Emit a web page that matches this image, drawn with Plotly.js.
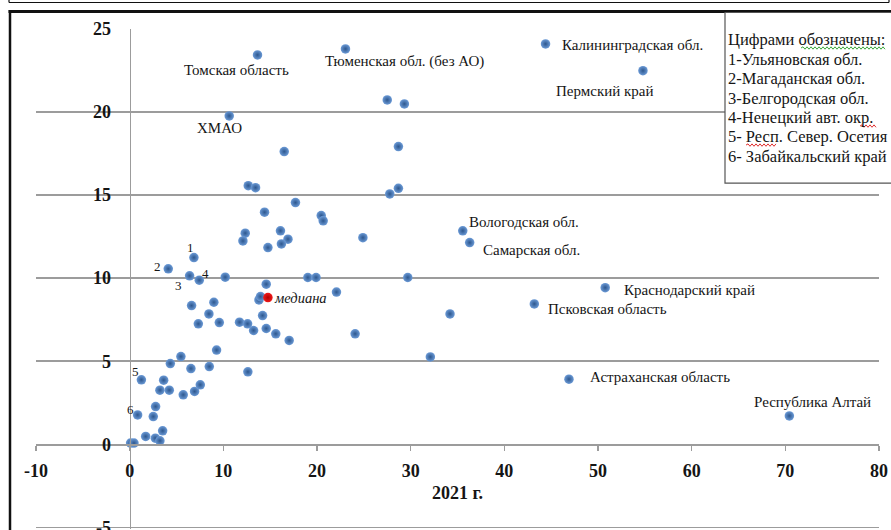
<!DOCTYPE html>
<html><head><meta charset="utf-8">
<script src="https://cdn.plot.ly/plotly-3.0.1.min.js"></script>
<style>html,body{margin:0;padding:0;background:#fff;overflow:hidden}#chart{width:891px;height:530px}</style>
</head><body><div id="chart"></div>
<script>
// ---- DATA ----
const otherX = [16.5,12.66,13.44,17.7,14.4,12.34,12.09,16.1,16.9,16.2,14.76,10.2,14.58,13.8,13.97,6.61,8.99,8.46,14.19,7.33,9.57,11.73,12.59,13.23,14.58,15.6,17.03,9.28,5.47,4.34,6.54,8.5,12.62,3.63,3.23,4.23,5.72,6.93,7.54,2.77,2.52,3.52,1.71,2.74,3.23,0.1,0.46,27.5,29.33,28.69,28.69,27.77,20.45,20.66,24.9,19.02,19.9,29.69,22.08,34.2,24.07,32.1];
const otherY = [17.62,15.57,15.45,14.55,13.97,12.71,12.24,12.85,12.35,12.06,11.84,10.06,9.64,8.69,8.89,8.35,8.55,7.85,7.75,7.25,7.33,7.35,7.25,6.85,6.97,6.65,6.25,5.67,5.28,4.86,4.56,4.68,4.36,3.86,3.26,3.26,2.98,3.18,3.58,2.27,1.67,0.81,0.47,0.37,0.21,0.07,0.07,20.73,20.49,17.92,15.41,15.07,13.77,13.45,12.44,10.04,10.04,10.04,9.16,7.85,6.65,5.26];
const namedRegions = ['Томская область','ХМАО','Тюменская обл. (без АО)','Калининградская обл.','Пермский край','Вологодская обл.','Самарская обл.','Краснодарский край','Псковская область','Астраханская область','Республика Алтай'];
const namedX = [13.65,10.63,23.04,44.4,54.8,35.56,36.3,50.77,43.2,46.9,70.43];
const namedY = [23.44,19.77,23.8,24.1,22.49,12.85,12.14,9.43,8.45,3.92,1.71];
const numberedTags = ['1','2','3','4','5','6'];
const numberedX = [6.86,4.12,6.4,7.43,1.25,0.85];
const numberedY = [11.24,10.56,10.14,9.88,3.88,1.77];
const medianX = [14.76];
const medianY = [8.83];
const medianLabel = 'медиана';
const legendTitle = 'Цифрами обозначены:';
const legendLines = ['1-Ульяновская обл.','2-Магаданская обл.','3-Белгородская обл.','4-Ненецкий авт. окр.','5- Респ. Север. Осетия','6- Забайкальский край'];
const xTitle = '2021 г.';
const xTicks = [-10,0,10,20,30,40,50,60,70,80];
const yTicks = [-5,0,5,10,15,20,25];

// ---- LAYOUT HELPERS (pixel -> paper) ----
const yLo = -5.1, yHi = 25;
const L = 36, T = 29, W = 843, H = 498 * (yHi - yLo) / 30;
const px = p => (p - L) / W;
const py = p => (T + H - p) / H;

const serif = 'Liberation Serif, Times New Roman, serif';
const txt = '#151515';
const gridC = '#9c9c9c';

// label offsets (pixels): [xanchor, xshift, yshift]
const namedStyle = [
  ['center',-21,-15],['center',-10,-12],['center',59,-13],['left',14,-1],['center',-38,-20],
  ['center',61,9],['center',62,-7],['left',17,-2],['left',12,-5],['left',19,2],['center',23,14]
];
const numStyle = [[-3,10],[-11,2],[-11,-10],[6,7],[-6,8],[-7,5]];
const legendRowsPx = [39.5, 59.5, 78.5, 98, 117, 136.5, 156.5];

const allX = otherX.concat(namedX, numberedX);
const allY = otherY.concat(namedY, numberedY);

const traces = [
  {type:'scatter', mode:'markers', x:allX, y:allY, hoverinfo:'x+y',
   marker:{size:9.5, color:'#6b9ad6', gradient:{type:'radial', color:'#2d578e'}, line:{width:0}}, showlegend:false},
  {type:'scatter', mode:'markers', x:medianX, y:medianY, name:medianLabel,
   marker:{size:9.5, color:'#f01a1a', gradient:{type:'radial', color:'#b00000'}, line:{width:0}}, showlegend:false}
];

const annotations = [];
namedRegions.forEach((n,i)=>{
  const s = namedStyle[i];
  annotations.push({x:namedX[i], y:namedY[i], xref:'x', yref:'y', text:n, showarrow:false,
    xanchor:s[0], yanchor:'middle', xshift:s[1], yshift:s[2], font:{family:serif, size:15, color:txt}});
});
numberedTags.forEach((t,i)=>{
  annotations.push({x:numberedX[i], y:numberedY[i], xref:'x', yref:'y', text:t, showarrow:false,
    xanchor:'center', yanchor:'middle', xshift:numStyle[i][0], yshift:numStyle[i][1], font:{family:serif, size:13, color:txt}});
});
annotations.push({x:medianX[0], y:medianY[0], xref:'x', yref:'y', text:'<i>'+medianLabel+'</i>', showarrow:false,
  xanchor:'left', yanchor:'middle', xshift:4, yshift:0, font:{family:serif, size:14.5, color:txt}});
[legendTitle].concat(legendLines).forEach((line,i)=>{
  annotations.push({x:px(726), y:py(legendRowsPx[i]), xref:'paper', yref:'paper', text:line,
    showarrow:false, xanchor:'left', yanchor:'middle', align:'left', font:{family:serif, size:16.5, color:txt}});
});

function wavy(x0,x1,y,color){
  let d = 'M'+px(x0)+','+py(y);
  let k = 0;
  for(let x=x0+2; x<=x1; x+=2){ k++; d += ' L'+px(x)+','+py(y + (k%2? -1.2:1.2)); }
  return {type:'path', xref:'paper', yref:'paper', path:d, line:{color:color, width:1}, layer:'above'};
}

const shapes = [
  {type:'line', xref:'paper', yref:'paper', x0:px(9), x1:px(889), y0:py(2.5), y1:py(2.5), line:{color:'#111', width:1.2}},
  {type:'line', xref:'paper', yref:'paper', x0:px(9), x1:px(9), y0:py(-2), y1:py(2.5), line:{color:'#111', width:1.2}},
  {type:'line', xref:'paper', yref:'paper', x0:px(889), x1:px(889), y0:py(-2), y1:py(2.5), line:{color:'#111', width:1.2}},
  {type:'line', xref:'paper', yref:'paper', x0:px(8.5), x1:px(895), y0:py(11.5), y1:py(11.5), line:{color:'#111', width:3}},
  {type:'line', xref:'paper', yref:'paper', x0:px(10), x1:px(10), y0:py(10), y1:py(535), line:{color:'#111', width:2.5}},
  {type:'rect', xref:'paper', yref:'paper', x0:px(725), x1:px(900), y0:py(12.5), y1:py(183), fillcolor:'#fff', line:{color:'#555', width:1.2}, layer:'above'},
  wavy(801,885,48,'#3aa63a'),
  wavy(860,876,126,'#e03030'),
  wavy(746,777,145,'#e03030')
];

const layout = {
  width:891, height:530,
  margin:{l:L, r:891-L-W, t:T, b:530-T-H, pad:0},
  paper_bgcolor:'#fff', plot_bgcolor:'#fff',
  showlegend:false,
  font:{family:serif, color:txt},
  xaxis:{range:[-10,80], tickvals:xTicks, ticktext:xTicks.map(v=>'<b>'+v+'</b>'), showgrid:false, zeroline:false,
    showline:true, linecolor:gridC, linewidth:1.5, ticks:'outside', ticklen:5, tickcolor:gridC, tickwidth:1.5,
    anchor:'free', position:(0-yLo)/(yHi-yLo), ticklabelstandoff:5, ticklabeloverflow:'allow',
    tickfont:{family:serif, size:18, color:txt},
    title:{text:'<b>'+xTitle+'</b>', font:{family:serif, size:18, color:txt}, standoff:6}},
  yaxis:{range:[yLo,yHi], tickvals:yTicks, ticktext:yTicks.map(v=>'<b>'+v+'</b>'), showgrid:true, gridcolor:gridC, gridwidth:1.5,
    zeroline:false, showline:true, linecolor:gridC, linewidth:1.5, ticks:'',
    anchor:'free', position:10/90, ticklabelstandoff:15, ticklabeloverflow:'allow',
    tickfont:{family:serif, size:18, color:txt}},
  annotations:annotations,
  shapes:shapes
};

Plotly.newPlot('chart', traces, layout, {staticPlot:true, displayModeBar:false});
</script></body></html>
